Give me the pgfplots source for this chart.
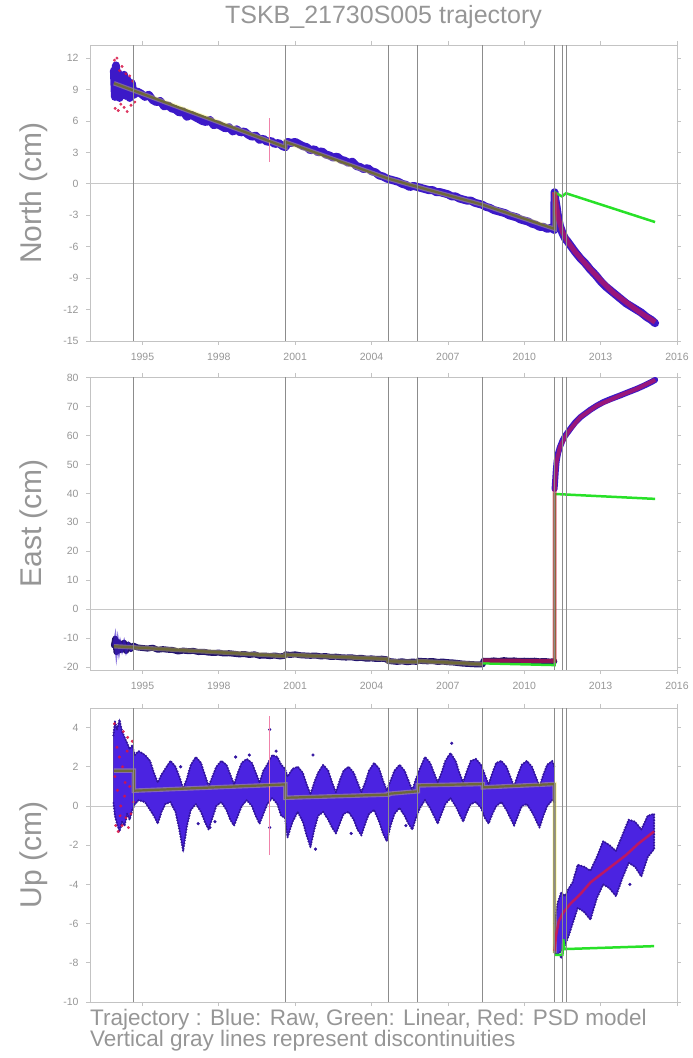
\documentclass[border=0pt]{standalone}
\usepackage{fontspec}
\setmainfont{Liberation Sans}
\usepackage{pgfplots}
\pgfplotsset{compat=1.18}
\definecolor{txtgray}{RGB}{150,150,150}
\definecolor{framegray}{RGB}{195,195,195}
\definecolor{discgray}{RGB}{140,140,140}
\definecolor{zerogray}{RGB}{200,200,200}
\definecolor{rawblue}{RGB}{60,25,200}
\definecolor{rawdark}{RGB}{35,20,110}
\definecolor{psdred}{RGB}{215,20,70}
\definecolor{pinkbar}{RGB}{240,130,170}
\definecolor{lingreen}{RGB}{40,225,40}
\definecolor{olivem}{RGB}{110,105,55}
\definecolor{halo}{RGB}{245,240,90}
\definecolor{upblue}{RGB}{75,35,225}
\definecolor{upedge}{RGB}{50,20,160}
\pgfplotsset{traj/.style={
  scale only axis, width=587pt, xmin=1992.94, xmax=2016,
  xtick={1995,1998,...,2016},
  axis line style={framegray, line width=0.8pt},
  tick style={framegray, line width=0.8pt},
  tick align=outside, major tick length=4pt,
  ticklabel style={font=\fontsize{10.5}{12}\selectfont, text=txtgray},
  xticklabel style={yshift=-5pt},
  yticklabel style={xshift=-4pt},
  /pgf/number format/assume math mode=true,
  /pgf/number format/1000 sep={},
  clip mode=individual,
  every axis y label/.style={at={(axis description cs:-0.083,0.5)}, rotate=90, anchor=base, font=\fontsize{30}{36}\selectfont, text=txtgray},
  discline/.style={discgray, line width=0.8pt, unbounded coords=jump, forget plot},
  zeroline/.style={zerogray, line width=0.8pt, forget plot},
  rawband/.style={rawblue, line width=8pt, line join=round, line cap=round},
  modelhalo/.style={halo, line width=4.5pt, opacity=0.35},
  modelline/.style={olivem, line width=2.2pt},
  psd/.style={psdred, line width=5pt, opacity=0.6, line join=round},
  lin/.style={lingreen, line width=2.5pt},
  dotedge/.style={upedge, line width=2.4pt, line cap=round, dash pattern=on 0pt off 2.8pt},
}}
\newcommand{\discs}[2]{\addplot[discline] coordinates {(1994.66,#1)(1994.66,#2)(1994.66,nan)(2000.62,#1)(2000.62,#2)(2000.62,nan)(2004.65,#1)(2004.65,#2)(2004.65,nan)(2005.82,#1)(2005.82,#2)(2005.82,nan)(2008.37,#1)(2008.37,#2)(2008.37,nan)(2011.19,#1)(2011.19,#2)(2011.19,nan)(2011.50,#1)(2011.50,#2)(2011.50,nan)(2011.64,#1)(2011.64,#2)};}
\begin{document}
\begin{tikzpicture}
\useasboundingbox (0pt,0pt) rectangle (693pt,1058pt);
% ================= NORTH =================
\begin{axis}[traj, at={(90pt,717pt)}, anchor=south west, height=296pt,
  ymin=-15, ymax=13.25, ytick={-15,-12,...,12}, ylabel={North (cm)},
  title={TSKB\_21730S005 trajectory},
  title style={at={(axis description cs:0.5,1.0507)}, anchor=base, font=\fontsize{25}{30}\selectfont, text=txtgray}]
\addplot[zeroline] coordinates {(1992.94,0)(2016,0)};
% raw
\addplot[rawband] coordinates {
(1993.88,10.8)(1993.92,8.3)(1993.96,11.3)(1994.00,8.6)(1994.05,10.6)(1994.10,8.2)(1994.15,10.3)(1994.20,8.7)(1994.28,10.4)(1994.35,8.4)(1994.42,9.9)(1994.50,8.2)(1994.58,9.6)(1994.66,8.5)
(1994.80,8.8)(1994.95,8.6)(1995.10,8.3)(1995.25,8.5)(1995.40,8.0)(1995.55,7.8)(1995.70,7.9)(1995.85,7.4)(1996.00,7.5)(1996.15,7.2)(1996.30,7.1)(1996.45,6.8)(1996.60,6.9)(1996.75,6.4)(1996.90,6.6)(1997.05,6.4)(1997.20,6.2)(1997.35,6.0)(1997.50,5.9)(1997.65,6.1)(1997.80,5.6)(1997.95,5.7)(1998.10,5.5)(1998.25,5.3)(1998.40,5.4)(1998.55,5.0)(1998.70,5.2)(1998.85,4.9)(1999.00,5.0)(1999.15,4.7)(1999.30,4.5)(1999.45,4.6)(1999.60,4.2)(1999.75,4.3)(1999.90,4.0)(2000.05,4.1)(2000.20,3.8)(2000.35,3.9)(2000.50,3.6)(2000.62,3.5)
(2000.70,4.0)(2000.85,3.9)(2001.00,4.0)(2001.15,3.8)(2001.30,3.6)(2001.45,3.5)(2001.60,3.2)(2001.75,3.3)(2001.90,3.0)(2002.05,3.1)(2002.20,2.8)(2002.35,2.7)(2002.50,2.5)(2002.65,2.6)(2002.80,2.3)(2002.95,2.2)(2003.10,2.0)(2003.25,2.1)(2003.40,1.7)(2003.55,1.6)(2003.70,1.4)(2003.85,1.5)(2004.00,1.2)(2004.15,1.1)(2004.30,0.8)(2004.45,0.7)(2004.60,0.5)(2004.75,0.4)(2004.90,0.3)(2005.05,0.2)(2005.20,0.0)(2005.35,-0.1)(2005.50,-0.3)(2005.65,-0.2)(2005.80,-0.3)(2005.95,-0.4)(2006.10,-0.5)(2006.25,-0.6)(2006.40,-0.6)(2006.55,-0.8)(2006.70,-0.8)(2006.85,-0.9)(2007.00,-1.0)(2007.15,-1.2)(2007.30,-1.2)(2007.45,-1.4)(2007.60,-1.5)(2007.75,-1.6)(2007.90,-1.6)(2008.05,-1.8)(2008.20,-1.9)(2008.35,-2.0)(2008.50,-2.2)(2008.65,-2.3)(2008.80,-2.5)(2008.95,-2.6)(2009.10,-2.7)(2009.25,-2.8)(2009.40,-3.0)(2009.55,-3.1)(2009.70,-3.2)(2009.85,-3.4)(2010.00,-3.5)(2010.15,-3.6)(2010.30,-3.8)(2010.45,-3.9)(2010.60,-4.1)(2010.75,-4.1)(2010.90,-4.3)(2011.05,-4.2)(2011.18,-4.4)
(2011.19,-0.8)(2011.22,-1.5)(2011.27,-2.2)(2011.33,-3.2)(2011.40,-4.0)(2011.50,-4.7)(2011.60,-5.2)(2011.70,-5.5)(2011.85,-6.0)(2012.00,-6.5)(2012.20,-7.1)(2012.40,-7.6)(2012.60,-8.2)(2012.80,-8.7)(2013.00,-9.3)(2013.20,-9.8)(2013.40,-10.2)(2013.60,-10.6)(2013.80,-11.0)(2014.00,-11.4)(2014.20,-11.7)(2014.40,-12.0)(2014.60,-12.3)(2014.80,-12.7)(2015.00,-13.0)(2015.14,-13.3)};
% early scatter
\addplot[only marks, mark=*, mark size=1.3pt, psdred, opacity=0.8] coordinates {
(1993.90,11.8)(1993.93,7.2)(1994.00,12.0)(1994.05,7.0)(1994.10,10.8)(1994.15,7.6)(1994.20,11.2)(1994.28,7.3)(1994.35,10.5)(1994.40,6.9)(1994.50,10.3)(1994.55,7.5)(1994.62,9.8)(1994.70,7.8)};
\addplot[pinkbar, line width=0.6pt] coordinates {(1999.97,2.1)(1999.97,6.3)};
% models
\addplot[modelhalo] coordinates {(1993.88,9.6)(1994.66,8.9)(1994.66,8.9)(2000.62,3.5)(2000.62,4.0)(2004.65,0.5)(2005.82,-0.3)(2008.37,-2.0)(2011.19,-4.3)(2011.19,-0.8)};
\addplot[modelline] coordinates {(1993.88,9.6)(1994.66,8.9)(1994.66,8.9)(2000.62,3.5)(2000.62,4.0)(2004.65,0.5)(2005.82,-0.3)(2008.37,-2.0)(2011.19,-4.3)(2011.19,-0.8)};
\addplot[lin] coordinates {(2011.19,-0.8)(2011.48,-1.2)(2011.64,-0.9)(2015.14,-3.65)};
\addplot[psd] coordinates {(2011.19,-0.8)(2011.25,-1.9)(2011.35,-3.4)(2011.50,-4.6)(2011.70,-5.5)(2012.00,-6.5)(2012.50,-7.9)(2013.00,-9.2)(2013.50,-10.4)(2014.00,-11.3)(2014.50,-12.2)(2015.14,-13.2)};
\discs{-15}{13.25}
\end{axis}
% ================= EAST =================
\begin{axis}[traj, at={(90pt,388pt)}, anchor=south west, height=293pt,
  ymin=-21, ymax=80.2, ytick={-20,-10,...,80}, ylabel={East (cm)}]
\addplot[zeroline] coordinates {(1992.94,0)(2016,0)};
\addplot[rawband, color=rawdark, line width=6pt] coordinates {
(1993.88,-12.5)(1993.93,-10.2)(1993.98,-14.8)(1994.03,-11.3)(1994.08,-14.3)(1994.13,-11.8)(1994.20,-14.0)(1994.28,-11.6)(1994.36,-14.4)(1994.45,-12.2)(1994.55,-13.8)(1994.65,-12.6)
(1994.80,-13.2)(1995.00,-13.4)(1995.20,-13.6)(1995.40,-13.3)(1995.60,-14.0)(1995.80,-13.8)(1996.00,-14.0)(1996.20,-14.1)(1996.40,-14.6)(1996.60,-14.3)(1996.80,-14.5)(1997.00,-14.4)(1997.20,-14.8)(1997.40,-14.7)(1997.60,-15.0)(1997.80,-15.1)(1998.00,-15.0)(1998.20,-15.3)(1998.40,-15.2)(1998.60,-15.4)(1998.80,-15.6)(1999.00,-15.5)(1999.20,-15.8)(1999.40,-15.6)(1999.60,-16.1)(1999.80,-16.0)(2000.00,-16.2)(2000.20,-16.0)(2000.40,-16.3)(2000.60,-16.1)
(2000.62,-15.6)(2000.80,-15.8)(2001.00,-15.6)(2001.20,-15.9)(2001.40,-16.0)(2001.60,-16.1)(2001.80,-16.0)(2002.00,-16.3)(2002.20,-16.2)(2002.40,-16.5)(2002.60,-16.4)(2002.80,-16.6)(2003.00,-16.7)(2003.20,-16.6)(2003.40,-16.9)(2003.60,-16.8)(2003.80,-17.1)(2004.00,-17.0)(2004.20,-17.2)(2004.40,-17.1)(2004.60,-17.3)
(2004.65,-17.9)(2004.80,-18.0)(2005.00,-18.2)(2005.20,-18.0)(2005.40,-18.3)(2005.60,-18.1)(2005.80,-18.2)(2005.82,-17.8)(2006.00,-17.9)(2006.20,-18.0)(2006.40,-17.9)(2006.60,-18.2)(2006.80,-18.1)(2007.00,-18.3)(2007.20,-18.4)(2007.40,-18.6)(2007.60,-18.8)(2007.80,-18.9)(2008.00,-19.0)(2008.20,-19.1)(2008.37,-19.0)
(2008.40,-17.8)(2008.60,-17.9)(2008.80,-17.7)(2009.00,-17.9)(2009.20,-17.6)(2009.40,-17.8)(2009.60,-17.7)(2009.80,-17.9)(2010.00,-17.8)(2010.20,-17.9)(2010.40,-17.8)(2010.60,-18.0)(2010.80,-17.9)(2011.00,-18.1)(2011.18,-18.0)};
\addplot[rawblue, line width=3pt, opacity=0.6] coordinates {
(1993.88,-12.5)(1993.93,-10.2)(1993.98,-14.8)(1994.03,-11.3)(1994.08,-14.3)(1994.13,-11.8)(1994.20,-14.0)(1994.28,-11.6)(1994.36,-14.4)(1994.45,-12.2)(1994.55,-13.8)(1994.65,-12.6)(1994.80,-13.2)(1995.00,-13.4)(1995.20,-13.6)(1995.40,-13.3)(1995.60,-14.0)};
\addplot[rawband, line width=6pt] coordinates {
(2011.19,41.5)(2011.21,44)(2011.24,48)(2011.27,51)(2011.33,54)(2011.40,56)(2011.50,58.2)(2011.60,59.8)(2011.70,61)(2011.85,62.8)(2012.00,64.5)(2012.20,66.3)(2012.40,67.6)(2012.60,68.9)(2012.85,70.3)(2013.10,71.5)(2013.40,72.6)(2013.76,73.8)(2014.10,75.0)(2014.42,76.1)(2014.70,77.2)(2015.00,78.5)(2015.14,79.2)};
\addplot[modelhalo] coordinates {(1993.88,-12.8)(2000.62,-16.2)(2000.62,-15.7)(2004.65,-17.2)(2004.65,-18.0)(2005.82,-18.2)(2005.82,-17.9)(2008.37,-19.0)};
\addplot[modelline] coordinates {(1993.88,-12.8)(2000.62,-16.2)(2000.62,-15.7)(2004.65,-17.2)(2004.65,-18.0)(2005.82,-18.2)(2005.82,-17.9)(2008.37,-19.0)};
\addplot[lin] coordinates {(2008.37,-18.7)(2011.19,-19.3)(2011.19,39.8)(2015.14,38.1)};
\addplot[psd, line width=4pt] coordinates {(2008.37,-17.7)(2011.19,-17.9)(2011.19,40)(2011.21,44)(2011.27,51)(2011.40,56)(2011.70,61)(2012.20,66.3)(2012.85,70.3)(2013.76,73.8)(2014.42,76.1)(2015.14,79.2)};
\addplot[olivem, line width=1.8pt] coordinates {(2011.19,-19.3)(2011.19,39.8)};
\discs{-21}{80.2}
\end{axis}
% ================= UP =================
\begin{axis}[traj, at={(90pt,56pt)}, anchor=south west, height=294pt,
  ymin=-10, ymax=5, ytick={-10,-8,...,4}, ylabel={Up (cm)}, xticklabels={}]
\addplot[zeroline] coordinates {(1992.94,0)(2016,0)};
\addplot[fill=upblue, draw=upedge, line width=0.6pt] coordinates {
(1993.86,3.6)(1993.92,4.3)(1994.00,3.9)(1994.10,4.4)(1994.20,3.8)(1994.30,3.5)(1994.40,3.2)(1994.50,2.9)(1994.60,3.1)(1994.70,2.6)(1994.85,2.8)(1995.10,2.6)(1995.30,2.3)(1995.45,1.7)(1995.60,1.2)(1995.75,1.6)(1995.90,1.9)(1996.10,2.3)(1996.30,2.0)(1996.45,1.5)(1996.60,0.9)(1996.75,1.4)(1996.90,2.1)(1997.10,2.5)(1997.30,2.2)(1997.45,1.6)(1997.60,1.0)(1997.75,1.5)(1997.90,2.0)(1998.10,2.3)(1998.30,2.1)(1998.45,1.6)(1998.60,1.1)(1998.75,1.7)(1998.90,2.2)(1999.10,2.4)(1999.30,2.2)(1999.45,1.7)(1999.60,1.2)(1999.75,1.8)(1999.90,2.1)(2000.10,2.6)(2000.30,2.5)(2000.45,2.1)(2000.60,1.9)(2000.70,1.5)(2000.90,1.9)(2001.10,2.0)(2001.30,1.7)(2001.45,1.1)(2001.60,0.6)(2001.75,1.2)(2001.90,1.7)(2002.10,2.1)(2002.30,1.8)(2002.45,1.2)(2002.60,0.7)(2002.75,1.3)(2002.90,1.8)(2003.10,2.0)(2003.30,1.7)(2003.45,1.2)(2003.60,0.7)(2003.75,1.2)(2003.90,1.8)(2004.10,2.2)(2004.30,1.9)(2004.45,1.3)(2004.60,0.8)(2004.75,1.3)(2004.90,1.8)(2005.10,2.1)(2005.30,1.8)(2005.45,1.3)(2005.60,0.8)(2005.75,1.4)(2005.90,1.9)(2006.10,2.5)(2006.30,2.2)(2006.45,1.7)(2006.60,1.2)(2006.75,1.7)(2006.90,2.3)(2007.10,2.7)(2007.30,2.3)(2007.45,1.7)(2007.60,1.2)(2007.75,1.8)(2007.90,2.3)(2008.10,2.4)(2008.30,2.1)(2008.45,1.6)(2008.60,1.1)(2008.75,1.7)(2008.90,2.2)(2009.10,2.3)(2009.30,2.0)(2009.45,1.5)(2009.60,1.0)(2009.75,1.6)(2009.90,2.1)(2010.10,2.3)(2010.30,2.0)(2010.45,1.5)(2010.60,1.0)(2010.75,1.6)(2010.90,2.1)(2011.10,2.3)(2011.18,2.0)
(2011.18,0.2)(2011.10,0.3)(2010.90,0.0)(2010.75,-0.5)(2010.60,-1.1)(2010.45,-0.7)(2010.30,-0.3)(2010.10,0.1)(2009.90,0.0)(2009.75,-0.5)(2009.60,-1.0)(2009.45,-0.6)(2009.30,-0.2)(2009.10,0.2)(2008.90,0.0)(2008.75,-0.4)(2008.60,-0.9)(2008.45,-0.6)(2008.30,-0.1)(2008.10,0.2)(2007.90,0.1)(2007.75,-0.3)(2007.60,-0.8)(2007.45,-0.4)(2007.30,0.0)(2007.10,0.4)(2006.90,0.1)(2006.75,-0.4)(2006.60,-0.9)(2006.45,-0.5)(2006.30,-0.1)(2006.10,0.3)(2005.90,-0.1)(2005.75,-0.6)(2005.60,-1.2)(2005.45,-0.9)(2005.30,-0.5)(2005.10,-0.1)(2004.90,-0.4)(2004.75,-1.0)(2004.60,-1.8)(2004.45,-1.4)(2004.30,-0.8)(2004.10,-0.2)(2003.90,-0.4)(2003.75,-0.9)(2003.60,-1.5)(2003.45,-1.2)(2003.30,-0.7)(2003.10,-0.3)(2002.90,-0.4)(2002.75,-0.9)(2002.60,-1.4)(2002.45,-1.1)(2002.30,-0.7)(2002.10,-0.3)(2001.90,-0.5)(2001.75,-1.2)(2001.60,-2.1)(2001.45,-1.5)(2001.30,-0.8)(2001.10,-0.3)(2000.90,-0.8)(2000.70,-1.6)(2000.60,-0.6)(2000.45,-0.5)(2000.30,0.1)(2000.10,0.4)(1999.90,0.1)(1999.75,-0.4)(1999.60,-0.9)(1999.45,-0.5)(1999.30,0.0)(1999.10,0.3)(1998.90,0.0)(1998.75,-0.5)(1998.60,-1.0)(1998.45,-0.7)(1998.30,-0.2)(1998.10,0.2)(1997.90,0.0)(1997.75,-0.6)(1997.60,-1.2)(1997.45,-0.8)(1997.30,-0.3)(1997.10,0.1)(1996.90,-0.2)(1996.75,-1.0)(1996.60,-2.3)(1996.45,-1.2)(1996.30,-0.3)(1996.10,0.2)(1995.90,0.1)(1995.75,-0.3)(1995.60,-0.9)(1995.45,-0.5)(1995.30,-0.2)(1995.10,0.2)(1994.85,0.3)(1994.70,0.1)(1994.60,-0.2)(1994.50,-0.7)(1994.40,-0.4)(1994.30,-1.0)(1994.20,-0.8)(1994.10,-1.3)(1994.00,-0.9)(1993.92,-0.5)(1993.86,0.2)} -- cycle;
\addplot[dotedge] coordinates {
(1993.86,3.6)(1993.92,4.3)(1994.00,3.9)(1994.10,4.4)(1994.20,3.8)(1994.30,3.5)(1994.40,3.2)(1994.50,2.9)(1994.60,3.1)(1994.70,2.6)(1994.85,2.8)(1995.10,2.6)(1995.30,2.3)(1995.45,1.7)(1995.60,1.2)(1995.75,1.6)(1995.90,1.9)(1996.10,2.3)(1996.30,2.0)(1996.45,1.5)(1996.60,0.9)(1996.75,1.4)(1996.90,2.1)(1997.10,2.5)(1997.30,2.2)(1997.45,1.6)(1997.60,1.0)(1997.75,1.5)(1997.90,2.0)(1998.10,2.3)(1998.30,2.1)(1998.45,1.6)(1998.60,1.1)(1998.75,1.7)(1998.90,2.2)(1999.10,2.4)(1999.30,2.2)(1999.45,1.7)(1999.60,1.2)(1999.75,1.8)(1999.90,2.1)(2000.10,2.6)(2000.30,2.5)(2000.45,2.1)(2000.60,1.9)(2000.70,1.5)(2000.90,1.9)(2001.10,2.0)(2001.30,1.7)(2001.45,1.1)(2001.60,0.6)(2001.75,1.2)(2001.90,1.7)(2002.10,2.1)(2002.30,1.8)(2002.45,1.2)(2002.60,0.7)(2002.75,1.3)(2002.90,1.8)(2003.10,2.0)(2003.30,1.7)(2003.45,1.2)(2003.60,0.7)(2003.75,1.2)(2003.90,1.8)(2004.10,2.2)(2004.30,1.9)(2004.45,1.3)(2004.60,0.8)(2004.75,1.3)(2004.90,1.8)(2005.10,2.1)(2005.30,1.8)(2005.45,1.3)(2005.60,0.8)(2005.75,1.4)(2005.90,1.9)(2006.10,2.5)(2006.30,2.2)(2006.45,1.7)(2006.60,1.2)(2006.75,1.7)(2006.90,2.3)(2007.10,2.7)(2007.30,2.3)(2007.45,1.7)(2007.60,1.2)(2007.75,1.8)(2007.90,2.3)(2008.10,2.4)(2008.30,2.1)(2008.45,1.6)(2008.60,1.1)(2008.75,1.7)(2008.90,2.2)(2009.10,2.3)(2009.30,2.0)(2009.45,1.5)(2009.60,1.0)(2009.75,1.6)(2009.90,2.1)(2010.10,2.3)(2010.30,2.0)(2010.45,1.5)(2010.60,1.0)(2010.75,1.6)(2010.90,2.1)(2011.10,2.3)(2011.18,2.0)};
\addplot[dotedge] coordinates {
(2011.18,0.2)(2011.10,0.3)(2010.90,0.0)(2010.75,-0.5)(2010.60,-1.1)(2010.45,-0.7)(2010.30,-0.3)(2010.10,0.1)(2009.90,0.0)(2009.75,-0.5)(2009.60,-1.0)(2009.45,-0.6)(2009.30,-0.2)(2009.10,0.2)(2008.90,0.0)(2008.75,-0.4)(2008.60,-0.9)(2008.45,-0.6)(2008.30,-0.1)(2008.10,0.2)(2007.90,0.1)(2007.75,-0.3)(2007.60,-0.8)(2007.45,-0.4)(2007.30,0.0)(2007.10,0.4)(2006.90,0.1)(2006.75,-0.4)(2006.60,-0.9)(2006.45,-0.5)(2006.30,-0.1)(2006.10,0.3)(2005.90,-0.1)(2005.75,-0.6)(2005.60,-1.2)(2005.45,-0.9)(2005.30,-0.5)(2005.10,-0.1)(2004.90,-0.4)(2004.75,-1.0)(2004.60,-1.8)(2004.45,-1.4)(2004.30,-0.8)(2004.10,-0.2)(2003.90,-0.4)(2003.75,-0.9)(2003.60,-1.5)(2003.45,-1.2)(2003.30,-0.7)(2003.10,-0.3)(2002.90,-0.4)(2002.75,-0.9)(2002.60,-1.4)(2002.45,-1.1)(2002.30,-0.7)(2002.10,-0.3)(2001.90,-0.5)(2001.75,-1.2)(2001.60,-2.1)(2001.45,-1.5)(2001.30,-0.8)(2001.10,-0.3)(2000.90,-0.8)(2000.70,-1.6)(2000.60,-0.6)(2000.45,-0.5)(2000.30,0.1)(2000.10,0.4)(1999.90,0.1)(1999.75,-0.4)(1999.60,-0.9)(1999.45,-0.5)(1999.30,0.0)(1999.10,0.3)(1998.90,0.0)(1998.75,-0.5)(1998.60,-1.0)(1998.45,-0.7)(1998.30,-0.2)(1998.10,0.2)(1997.90,0.0)(1997.75,-0.6)(1997.60,-1.2)(1997.45,-0.8)(1997.30,-0.3)(1997.10,0.1)(1996.90,-0.2)(1996.75,-1.0)(1996.60,-2.3)(1996.45,-1.2)(1996.30,-0.3)(1996.10,0.2)(1995.90,0.1)(1995.75,-0.3)(1995.60,-0.9)(1995.45,-0.5)(1995.30,-0.2)(1995.10,0.2)(1994.85,0.3)(1994.70,0.1)(1994.60,-0.2)(1994.50,-0.7)(1994.40,-0.4)(1994.30,-1.0)(1994.20,-0.8)(1994.10,-1.3)(1994.00,-0.9)(1993.92,-0.5)(1993.86,0.2)};
\addplot[fill=upblue, draw=upedge, line width=0.6pt] coordinates {
(2011.20,-6.0)(2011.30,-5.0)(2011.45,-4.4)(2011.60,-4.6)(2011.75,-4.2)(2011.90,-3.9)(2012.10,-3.0)(2012.35,-3.1)(2012.60,-3.3)(2012.85,-2.6)(2013.10,-1.8)(2013.35,-2.0)(2013.60,-2.3)(2013.85,-1.5)(2014.10,-0.7)(2014.35,-0.8)(2014.60,-1.2)(2014.85,-0.5)(2015.10,-0.4)
(2015.10,-2.2)(2014.85,-2.6)(2014.60,-3.6)(2014.35,-3.1)(2014.10,-2.9)(2013.85,-3.7)(2013.60,-4.6)(2013.35,-4.2)(2013.10,-4.0)(2012.85,-4.7)(2012.60,-5.8)(2012.35,-5.4)(2012.10,-5.2)(2011.90,-6.0)(2011.75,-6.6)(2011.60,-7.1)(2011.45,-7.4)(2011.30,-7.6)(2011.20,-7.5)} -- cycle;
\addplot[dotedge] coordinates {
(2011.20,-6.0)(2011.30,-5.0)(2011.45,-4.4)(2011.60,-4.6)(2011.75,-4.2)(2011.90,-3.9)(2012.10,-3.0)(2012.35,-3.1)(2012.60,-3.3)(2012.85,-2.6)(2013.10,-1.8)(2013.35,-2.0)(2013.60,-2.3)(2013.85,-1.5)(2014.10,-0.7)(2014.35,-0.8)(2014.60,-1.2)(2014.85,-0.5)(2015.10,-0.4)
(2015.10,-2.2)(2014.85,-2.6)(2014.60,-3.6)(2014.35,-3.1)(2014.10,-2.9)(2013.85,-3.7)(2013.60,-4.6)(2013.35,-4.2)(2013.10,-4.0)(2012.85,-4.7)(2012.60,-5.8)(2012.35,-5.4)(2012.10,-5.2)(2011.90,-6.0)(2011.75,-6.6)(2011.60,-7.1)(2011.45,-7.4)(2011.30,-7.6)(2011.20,-7.5)};
\addplot[only marks, mark=*, mark size=1.4pt, upedge] coordinates {
(1997.19,-0.9)(1997.65,-1.1)(1997.85,-0.8)(1998.66,2.5)(2000.00,3.9)(2000.00,-1.1)(2000.25,2.8)(1996.50,2.0)(1999.20,2.6)(2001.70,2.6)(2007.15,3.2)(2003.20,-1.4)(2005.35,-1.0)(2014.15,-4.0)(2011.45,-7.7)(2001.80,-2.2)};
\addplot[pinkbar, line width=0.6pt] coordinates {(2000.00,-2.5)(2000.00,4.6)};
\addplot[only marks, mark=*, mark size=1.3pt, psdred, opacity=0.85] coordinates {
(1993.90,4.2)(1993.95,-1.0)(1994.00,3.0)(1994.05,-1.3)(1994.10,2.5)(1994.15,0.0)(1994.20,-1.0)(1994.25,3.8)(1994.30,0.5)(1994.35,-0.6)(1994.40,2.8)(1994.45,-1.1)(1994.50,1.0)(1994.55,-0.4)(1994.60,3.3)(1994.65,0.2)(1993.92,1.5)(1994.02,0.8)(1994.12,-0.5)(1994.22,2.0)(1994.32,1.2)(1994.42,3.5)};
\addplot[modelhalo] coordinates {(1993.88,1.8)(1994.66,1.8)(1994.66,0.78)(2000.62,1.1)(2000.62,0.42)(2004.65,0.58)(2004.65,0.62)(2005.82,0.75)(2005.82,1.05)(2008.37,1.12)(2008.37,0.95)(2011.19,1.12)(2011.19,-7.5)};
\addplot[modelline] coordinates {(1993.88,1.8)(1994.66,1.8)(1994.66,0.78)(2000.62,1.1)(2000.62,0.42)(2004.65,0.58)(2004.65,0.62)(2005.82,0.75)(2005.82,1.05)(2008.37,1.12)(2008.37,0.95)(2011.19,1.12)(2011.19,-7.5)};
\addplot[lin] coordinates {(2011.19,-7.6)(2011.50,-7.6)(2011.53,-6.8)(2011.58,-7.3)(2015.10,-7.15)};
\addplot[psd, line width=2.5pt, opacity=0.8] coordinates {(2011.19,-7.4)(2011.25,-6.6)(2011.35,-5.9)(2011.50,-5.5)(2011.80,-5.0)(2012.20,-4.5)(2012.60,-3.9)(2013.00,-3.5)(2013.50,-3.0)(2014.00,-2.5)(2014.50,-1.9)(2015.10,-1.3)};
\discs{-10}{5}
\node[anchor=base west, text=txtgray, font=\fontsize{22.5}{26}\selectfont, inner sep=0pt] at (axis description cs:0,-0.0816) {Trajectory : Blue: Raw, Green: Linear, Red: PSD model};
\node[anchor=base west, text=txtgray, font=\fontsize{22.5}{26}\selectfont, inner sep=0pt] at (axis description cs:0,-0.153) {Vertical gray lines represent discontinuities};
\end{axis}
\end{tikzpicture}
\end{document}
